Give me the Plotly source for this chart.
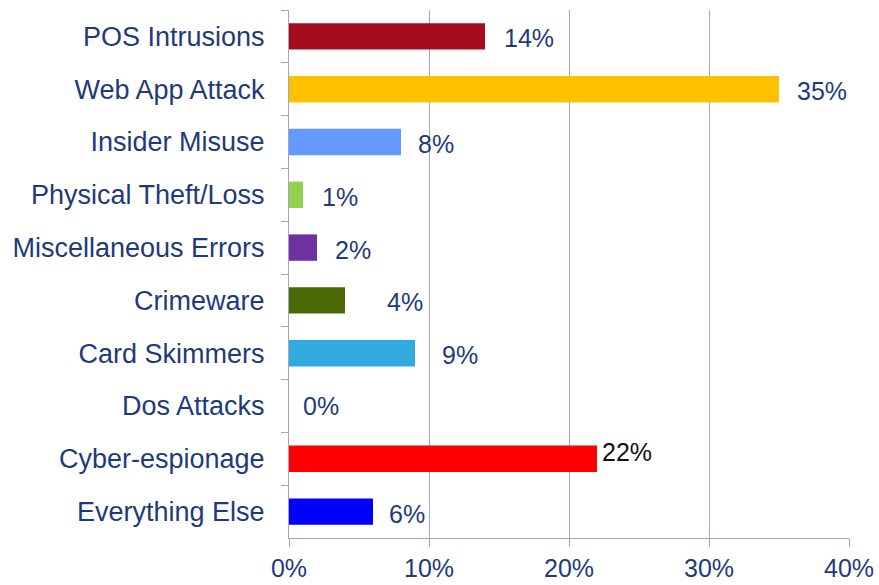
import plotly.graph_objects as go

categories = ["POS Intrusions", "Web App Attack", "Insider Misuse", "Physical Theft/Loss",
              "Miscellaneous Errors", "Crimeware", "Card Skimmers", "Dos Attacks",
              "Cyber-espionage", "Everything Else"]
values = [14, 35, 8, 1, 2, 4, 9, 0, 22, 6]
value_labels = ["14%", "35%", "8%", "1%", "2%", "4%", "9%", "0%", "22%", "6%"]
x_tick_vals = [0, 10, 20, 30, 40]
x_tick_text = ["0%", "10%", "20%", "30%", "40%"]

bar_colors = ["#A50D1E", "#FFC000", "#6699FF", "#92D050", "#7030A0",
              "#4B6A05", "#31ABDD", "#FFFFFF", "#FF0000", "#0000FF"]
label_colors = ["#1F3A7A"] * 8 + ["#111111", "#1F3A7A"]
label_xshift = [17, 16, 15, 17, 16, 40, 25, 12, 3, 14]
label_yshift = [-2, -2, -2, -2, -2, -2, -2, 0, 7, -2]

TEXT = "#1F3A7A"
GRID = "#A4A4C0"
FONT = "Liberation Sans, Arial, sans-serif"

fig = go.Figure(go.Bar(
    x=values, y=categories, orientation="h",
    marker=dict(color=bar_colors, line=dict(width=0)),
    hoverinfo="skip",
))

for c, v, t, col, dx, dy in zip(categories, values, value_labels, label_colors, label_xshift, label_yshift):
    fig.add_annotation(x=v, y=c, text=t, showarrow=False, xanchor="left", yanchor="middle",
                       xshift=dx, yshift=dy, font=dict(size=25, color=col, family=FONT))

fig.update_layout(
    width=879, height=585,
    margin=dict(l=289, r=30, t=10, b=47),
    paper_bgcolor="white", plot_bgcolor="white",
    bargap=0.5,
    showlegend=False,
    font=dict(family=FONT, size=25, color=TEXT),
)
fig.update_xaxes(range=[0, 40], tickvals=x_tick_vals, ticktext=x_tick_text,
                 automargin=False,
                 showgrid=True, gridcolor=GRID, gridwidth=1,
                 showline=True, linecolor=GRID, linewidth=1,
                 ticks="outside", ticklen=8, tickcolor=GRID,
                 ticklabelstandoff=0,
                 zeroline=False, tickfont=dict(size=25, color=TEXT))
fig.update_yaxes(autorange="reversed", showgrid=False, automargin=False,
                 showline=True, linecolor=GRID, linewidth=1,
                 ticks="outside", ticklen=7, tickcolor=GRID, tickson="boundaries",
                 ticklabelstandoff=18,
                 tickfont=dict(size=27, color=TEXT))

fig.write_html("out.html")
